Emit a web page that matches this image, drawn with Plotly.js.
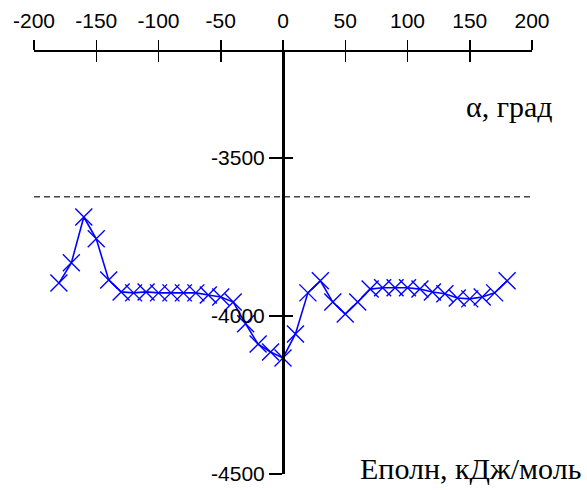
<!DOCTYPE html>
<html>
<head>
<meta charset="utf-8">
<script src="https://cdn.plot.ly/plotly-3.0.1.min.js"></script>
<style>html,body{margin:0;padding:0;background:#fff;}#chart{width:587px;height:490px;}</style>
</head>
<body>
<div id="chart"></div>
<script>
// Dihedral angle α (degrees)
const angles = [-180,-170,-160,-150,-140,-130,-120,-110,-100,-90,-80,-70,-60,-50,-40,-30,-20,-10,0,
                10,20,30,40,50,60,70,80,90,100,110,120,130,140,150,160,170,180];
// Total energy (kJ/mol)
const energies = [-3896,-3832,-3687,-3756,-3886,-3924,-3927,-3924,-3927,-3927,-3927,-3927,-3934,-3940,-3956,-4025,-4089,-4114,-4133,
                  -4057,-3927,-3889,-3956,-3994,-3956,-3915,-3911,-3911,-3911,-3915,-3924,-3930,-3943,-3946,-3940,-3927,-3889];
// Dashed reference level
const refX = [-200, 200];
const refLevel = -3623;
const xTickVals = [-200,-150,-100,-50,0,50,100,150,200];
const yTickVals = [-4500,-4000,-3500];
const xTitle = 'α, град';
const yTitle = 'Eполн, кДж/моль';

const tickFont = {family: 'Liberation Sans, Arial, sans-serif', size: 21, color: '#000'};
const titleFont = {family: 'Liberation Serif, Times New Roman, serif', size: 30, color: '#000'};
const xRange = [-200, 200];
const yRange = [-4500, -3165];

const traces = [
  {
    x: refX, y: [refLevel, refLevel], xaxis: 'x2', yaxis: 'y2',
    mode: 'lines', line: {color: '#444', width: 1.5, dash: '6px,4px'},
    hoverinfo: 'skip', showlegend: false
  },
  {
    x: angles, y: energies, xaxis: 'x', yaxis: 'y',
    mode: 'lines+markers',
    line: {color: '#0000ff', width: 1.6},
    marker: {symbol: 'x-thin', size: 17, line: {color: '#0000ff', width: 1.4}, color: '#0000ff'},
    showlegend: false, cliponaxis: false
  }
];

const layout = {
  width: 587, height: 490,
  margin: {l: 34, r: 55, t: 52, b: 16},
  paper_bgcolor: '#fff', plot_bgcolor: 'rgba(0,0,0,0)',
  showlegend: false,
  xaxis: {
    range: xRange, side: 'top', anchor: 'y', domain: [0, 1],
    tickvals: xTickVals, ticktext: xTickVals.map(String),
    ticks: 'outside', ticklen: 10, tickwidth: 1.5, tickcolor: '#000',
    showline: true, linewidth: 2, linecolor: '#000', mirror: false,
    showgrid: false, zeroline: false, tickfont: tickFont, ticklabelstandoff: 4
  },
  xaxis2: {
    range: xRange, side: 'top', overlaying: 'x', anchor: 'y2',
    tickvals: xTickVals, showticklabels: false,
    ticks: 'inside', ticklen: 10, tickwidth: 1.5, tickcolor: '#000',
    showline: false, showgrid: false, zeroline: false
  },
  yaxis: {
    range: yRange, anchor: 'free', position: 0.5, side: 'left',
    tickvals: yTickVals, ticktext: yTickVals.map(String),
    ticks: 'outside', ticklen: 13, tickwidth: 1.5, tickcolor: '#000',
    showline: true, linewidth: 3, linecolor: '#000',
    showgrid: false, zeroline: false, tickfont: tickFont, ticklabelstandoff: 0
  },
  yaxis2: {
    range: yRange, overlaying: 'y', anchor: 'free', position: 0.5, side: 'left',
    tickvals: yTickVals, showticklabels: false,
    ticks: 'inside', ticklen: 9, tickwidth: 1.5, tickcolor: '#000',
    showline: false, showgrid: false, zeroline: false
  },
  annotations: [
    {text: xTitle, xref: 'paper', yref: 'paper', x: 1.046, y: 0.87, xanchor: 'right', yanchor: 'middle',
     showarrow: false, font: titleFont},
    {text: yTitle, xref: 'paper', yref: 'paper', x: 1.103, y: 0.012, xanchor: 'right', yanchor: 'middle',
     showarrow: false, font: titleFont}
  ]
};

Plotly.newPlot('chart', traces, layout, {displayModeBar: false, staticPlot: true});
</script>
</body>
</html>
